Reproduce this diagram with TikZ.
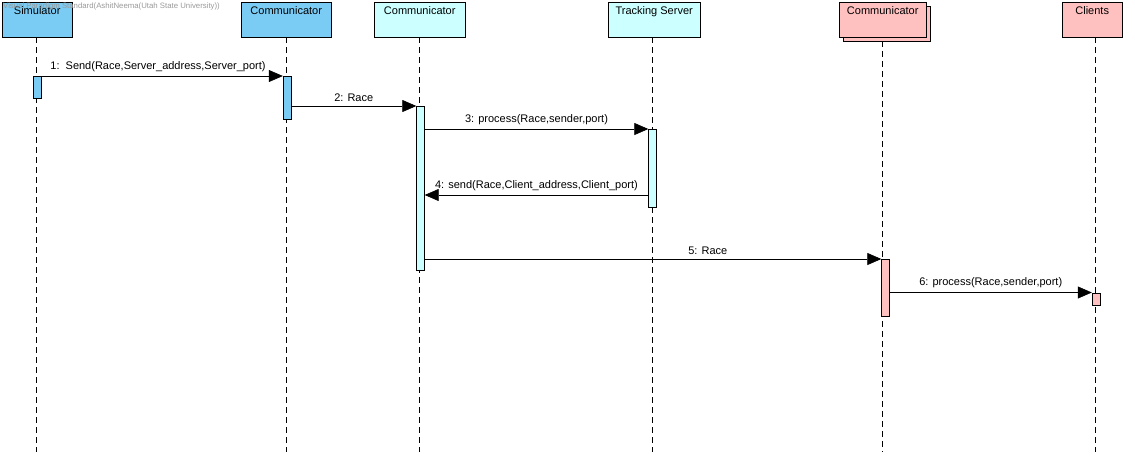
\documentclass[tikz,border=0pt]{standalone}
\usepackage{fontspec}
\setmainfont{Liberation Sans}
\usetikzlibrary{arrows.meta,positioning}
\definecolor{simblue}{RGB}{122,204,245}
\definecolor{servcyan}{RGB}{204,255,255}
\definecolor{clientpink}{RGB}{255,192,192}
\begin{document}
\begin{tikzpicture}[x=1pt,y=-1pt,
    head/.style={draw, rectangle, anchor=north west, inner xsep=0pt, inner ysep=4pt,
        text height=8pt, text depth=19pt, font=\fontsize{11}{13}\selectfont},
    lifeline/.style={dash pattern=on 6pt off 4pt, line width=0.6pt},
    actbar/.style={draw, rectangle, anchor=north, minimum width=8pt, inner sep=0pt},
    msg/.style={-{Triangle[length=14pt,width=12pt]}, line width=0.6pt},
    msglabel/.style={above, yshift=1pt, font=\fontsize{11}{13}\selectfont}]
    \useasboundingbox (0,0) rectangle (1135,459);

    % Lifeline heads
    \node[head, fill=simblue, minimum width=70pt] (sim) at (2,2) {Simulator};
    \node[head, fill=simblue, minimum width=90pt] (comA) at (241,2) {Communicator};
    \node[head, fill=servcyan, minimum width=91pt] (comB) at (374,2) {Communicator};
    \node[head, fill=servcyan, minimum width=92pt] (track) at (608,2) {Tracking Server};
    \node[draw, fill=clientpink, rectangle, anchor=north west, minimum width=87pt, minimum height=35pt] (comCback) at (843,6) {};
    \node[head, fill=clientpink, minimum width=87pt] (comC) at (839,2) {Communicator};
    \node[head, fill=clientpink, minimum width=60pt] (clients) at (1062,2) {Clients};

    % Lifelines
    \coordinate (simend) at (36,452);
    \coordinate (comAend) at (286,452);
    \coordinate (comBend) at (419.5,452);
    \coordinate (trackend) at (652,452);
    \coordinate (comCend) at (882.5,452);
    \coordinate (clientsend) at (1095.5,452);
    \draw[lifeline] (simend |- sim.south) -- (simend);
    \draw[lifeline] (comAend |- comA.south) -- (comAend);
    \draw[lifeline] (comBend |- comB.south) -- (comBend);
    \draw[lifeline] (trackend |- track.south) -- (trackend);
    \draw[lifeline] (comCend |- comCback.south) -- (comCend);
    \draw[lifeline] (clientsend |- clients.south) -- (clientsend);

    % Activation bars
    \node[actbar, fill=simblue, minimum height=22pt] (simbar) at (37,76) {};
    \node[actbar, fill=simblue, minimum height=43pt] (comAbar) at (287,76) {};
    \node[actbar, fill=servcyan, minimum height=164pt] (comBbar) at (420.5,106) {};
    \node[actbar, fill=servcyan, minimum height=78pt] (trackbar) at (652.5,129) {};
    \node[actbar, fill=clientpink, minimum height=57pt] (comCbar) at (885.5,259) {};
    \node[actbar, fill=clientpink, minimum height=12pt] (clientsbar) at (1096,292.5) {};

    % Messages
    \draw[msg] (simbar.north east) -- (comAbar.north west)
        node[msglabel, midway, xshift=-4pt] {1:\ \ Send(Race,Server\_address,Server\_port)};
    \draw[msg] (comAbar.east |- comBbar.north) -- (comBbar.north west)
        node[msglabel, midway] {2: Race};
    \draw[msg] (comBbar.east |- trackbar.north) -- (trackbar.north west)
        node[msglabel, midway] {3: process(Race,sender,port)};
    \draw[msg] (trackbar.west |- 0,195) -- (comBbar.east |- 0,195)
        node[msglabel, midway] {4: send(Race,Client\_address,Client\_port)};
    \draw[msg] (comBbar.east |- comCbar.north) -- (comCbar.north west)
        node[msglabel, pos=0.62] {5: Race};
    \draw[msg] (comCbar.east |- clientsbar.north) -- (clientsbar.north west)
        node[msglabel, midway] {6: process(Race,sender,port)};

    % Watermark
    \node[anchor=north west, inner sep=0pt, text=black!40, font=\fontsize{7.8}{9}\selectfont] (mark) at (3,3)
        {Visual Paradigm Standard(AshitNeema(Utah State University))};
\end{tikzpicture}
\end{document}
